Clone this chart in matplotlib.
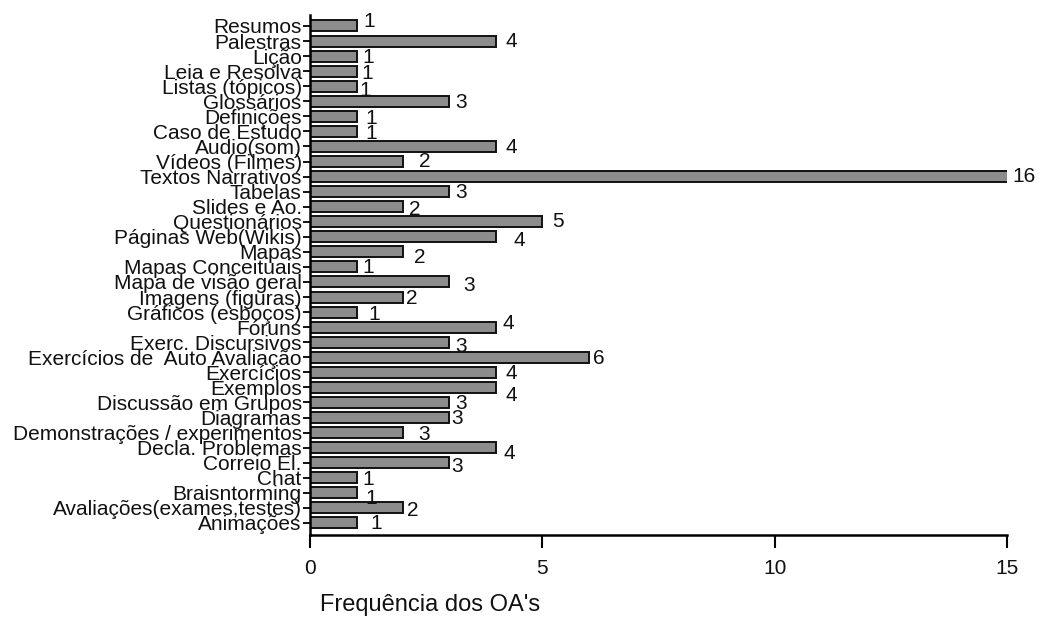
import matplotlib
matplotlib.use('Agg')
import matplotlib.pyplot as plt

plt.rcParams['font.family'] = ['Liberation Sans', 'DejaVu Sans']

# categories from bottom to top
categorias = ['Animações', 'Avaliações(exames,testes)', 'Braisntorming', 'Chat',
              'Correio El.', 'Decla. Problemas', 'Demonstrações / experimentos',
              'Diagramas', 'Discussão em Grupos', 'Exemplos', 'Exercícios',
              'Exercícios de  Auto Avaliação', 'Exerc. Discursivos', 'Fóruns',
              'Gráficos (esboços)', 'Imagens (figuras)', 'Mapa de visão geral',
              'Mapas Conceituais', 'Mapas', 'Páginas Web(Wikis)', 'Questionários',
              'Slides e Ao.', 'Tabelas', 'Textos Narrativos', 'Vídeos (Filmes)',
              'Audio(som)', 'Caso de Estudo', 'Definições', 'Glossários',
              'Listas (tópicos)', 'Leia e Resolva', 'Lição', 'Palestras', 'Resumos']

# bar lengths as drawn
valores = [1, 2, 1, 1, 3, 4, 2, 3, 3, 4, 4, 6, 3, 4, 1, 2, 3, 1, 2, 4, 5,
           2, 3, 16, 2, 4, 1, 1, 3, 1, 1, 1, 4, 1]

# numbers written next to the bars
rotulos = ['1', '2', '1', '1', '3', '4', '3', '3', '3', '4', '4', '6', '3', '4',
           '1', '2', '3', '1', '2', '4', '5', '2', '3', '16', '2', '4', '1', '1',
           '3', '1', '1', '1', '4', '1']

xticks = [0, 5, 10, 15]

# label offsets in pixels (dx, dy) from the visible bar end
offsets = [(14, -1), (4, -3), (9, -6), (6, -2), (2, -4), (8, -6), (15, -2),
           (2, -1), (6, -1), (10, -8), (10, -1), (4, -1), (6, -4), (7, 4),
           (12, -2), (3, -1), (14, -4), (6, -1), (11, -6), (18, -4), (10, 0),
           (6, -3), (6, -1), (5, 0), (16, 0), (10, -1), (9, -2), (9, -2),
           (6, -1), (3, -4), (5, -2), (6, -1), (10, 0), (7, 4)]

fig = plt.figure(figsize=(10.39, 6.19), dpi=100)
ax = fig.add_axes([0.2984, 0.1357, 0.6708, 0.8401])

pos = list(range(len(categorias)))
ax.barh(pos, valores, height=0.73, color='#8c8c8c', edgecolor='#111111', linewidth=1.4)

for i, (v, r, (dx, dy)) in enumerate(zip(valores, rotulos, offsets)):
    ax.annotate(r, xy=(min(v, 15), i), xytext=(dx, dy), textcoords='offset pixels',
                ha='left', va='center', fontsize=15, color='#111111',
                annotation_clip=False)

ax.set_xlim(0, 15)
ax.set_ylim(-0.8, 33.73)
ax.set_xticks(xticks)
ax.set_yticks(pos)
ax.set_yticklabels(categorias, fontsize=15, color='#111111')
ax.tick_params(axis='x', labelsize=15, length=9, width=1.5, direction='out', pad=8,
               labelcolor='#111111')
ax.tick_params(axis='y', length=5, width=1.3, direction='out', pad=1)

for s in ['top', 'right']:
    ax.spines[s].set_visible(False)
for s in ['left', 'bottom']:
    ax.spines[s].set_linewidth(1.8)

fig.text(0.308, 0.005, "Frequência dos OA's", fontsize=17, color='#111111',
         ha='left', va='bottom')

fig.savefig('out.png', dpi=100)
